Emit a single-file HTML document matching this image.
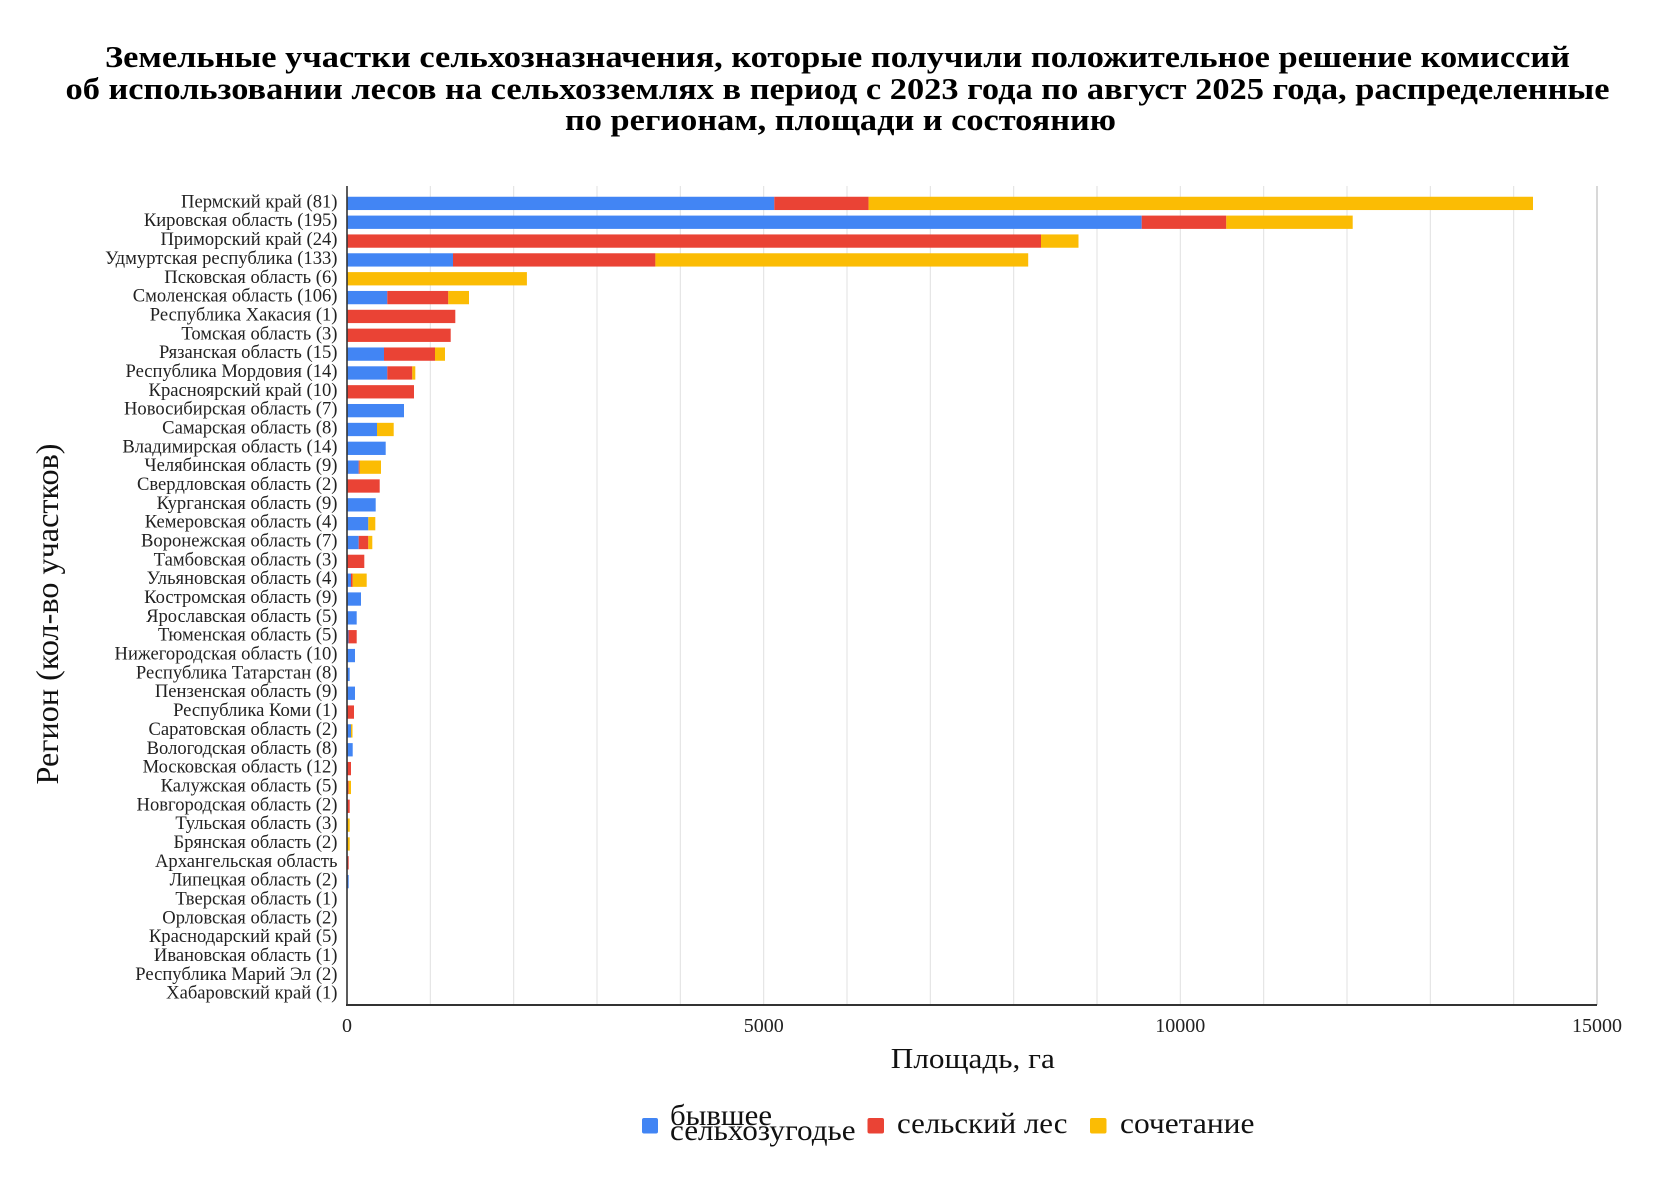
<!DOCTYPE html>
<html><head><meta charset="utf-8"><style>
html,body{margin:0;padding:0;background:#fff;}
svg{display:block;}
text{font-family:"Liberation Serif","Noto Serif CJK SC",serif;}
</style></head><body>
<svg width="1680" height="1182" viewBox="0 0 1680 1182" xmlns="http://www.w3.org/2000/svg">
<rect width="1680" height="1182" fill="#fff"/>
<g font-weight="bold" font-size="31" fill="#000" text-anchor="middle">
<text x="837.5" y="67" textLength="1465" lengthAdjust="spacingAndGlyphs">Земельные участки сельхозназначения, которые получили положительное решение комиссий</text>
<text x="837.5" y="99" textLength="1544" lengthAdjust="spacingAndGlyphs">об использовании лесов на сельхозземлях в период с 2023 года по август 2025 года, распределенные</text>
<text x="840.5" y="130" textLength="551" lengthAdjust="spacingAndGlyphs">по регионам, площади и состоянию</text>
</g>
<g stroke="#e0e0e0" stroke-width="1">
<line x1="430.3" y1="186" x2="430.3" y2="1005"/>
<line x1="513.7" y1="186" x2="513.7" y2="1005"/>
<line x1="597" y1="186" x2="597" y2="1005"/>
<line x1="680.3" y1="186" x2="680.3" y2="1005"/>
<line x1="763.7" y1="186" x2="763.7" y2="1005"/>
<line x1="847" y1="186" x2="847" y2="1005"/>
<line x1="930.3" y1="186" x2="930.3" y2="1005"/>
<line x1="1013.7" y1="186" x2="1013.7" y2="1005"/>
<line x1="1097" y1="186" x2="1097" y2="1005"/>
<line x1="1180.3" y1="186" x2="1180.3" y2="1005"/>
<line x1="1263.7" y1="186" x2="1263.7" y2="1005"/>
<line x1="1347" y1="186" x2="1347" y2="1005"/>
<line x1="1430.3" y1="186" x2="1430.3" y2="1005"/>
<line x1="1513.7" y1="186" x2="1513.7" y2="1005"/>
</g>
<line x1="1597" y1="186" x2="1597" y2="1005" stroke="#bdbdbd" stroke-width="1.2"/>
<g id="bars">
<rect x="347" y="196.75" width="427.3" height="13.3" fill="#4285F4"/>
<rect x="774.3" y="196.75" width="94.3" height="13.3" fill="#EA4335"/>
<rect x="868.6" y="196.75" width="664.4" height="13.3" fill="#FBBC04"/>
<rect x="347" y="215.59" width="794.7" height="13.3" fill="#4285F4"/>
<rect x="1141.7" y="215.59" width="84.6" height="13.3" fill="#EA4335"/>
<rect x="1226.3" y="215.59" width="126.4" height="13.3" fill="#FBBC04"/>
<rect x="347" y="234.43" width="694" height="13.3" fill="#EA4335"/>
<rect x="1041" y="234.43" width="37.5" height="13.3" fill="#FBBC04"/>
<rect x="347" y="253.27" width="106" height="13.3" fill="#4285F4"/>
<rect x="453" y="253.27" width="202.4" height="13.3" fill="#EA4335"/>
<rect x="655.4" y="253.27" width="372.8" height="13.3" fill="#FBBC04"/>
<rect x="347" y="272.11" width="179.9" height="13.3" fill="#FBBC04"/>
<rect x="347" y="290.95" width="40.3" height="13.3" fill="#4285F4"/>
<rect x="387.3" y="290.95" width="61" height="13.3" fill="#EA4335"/>
<rect x="448.3" y="290.95" width="20.7" height="13.3" fill="#FBBC04"/>
<rect x="347" y="309.79" width="108.3" height="13.3" fill="#EA4335"/>
<rect x="347" y="328.63" width="103.7" height="13.3" fill="#EA4335"/>
<rect x="347" y="347.47" width="37" height="13.3" fill="#4285F4"/>
<rect x="384" y="347.47" width="51" height="13.3" fill="#EA4335"/>
<rect x="435" y="347.47" width="10" height="13.3" fill="#FBBC04"/>
<rect x="347" y="366.31" width="40.3" height="13.3" fill="#4285F4"/>
<rect x="387.3" y="366.31" width="25" height="13.3" fill="#EA4335"/>
<rect x="412.3" y="366.31" width="3" height="13.3" fill="#FBBC04"/>
<rect x="347" y="385.15" width="67" height="13.3" fill="#EA4335"/>
<rect x="347" y="403.99" width="57" height="13.3" fill="#4285F4"/>
<rect x="347" y="422.83" width="30" height="13.3" fill="#4285F4"/>
<rect x="377" y="422.83" width="16.7" height="13.3" fill="#FBBC04"/>
<rect x="347" y="441.67" width="38.7" height="13.3" fill="#4285F4"/>
<rect x="347" y="460.51" width="11.7" height="13.3" fill="#4285F4"/>
<rect x="358.7" y="460.51" width="1" height="13.3" fill="#EA4335"/>
<rect x="359.7" y="460.51" width="21.3" height="13.3" fill="#FBBC04"/>
<rect x="347" y="479.35" width="32.7" height="13.3" fill="#EA4335"/>
<rect x="347" y="498.19" width="28.7" height="13.3" fill="#4285F4"/>
<rect x="347" y="517.03" width="21.3" height="13.3" fill="#4285F4"/>
<rect x="368.3" y="517.03" width="7" height="13.3" fill="#FBBC04"/>
<rect x="347" y="535.87" width="11.7" height="13.3" fill="#4285F4"/>
<rect x="358.7" y="535.87" width="9.6" height="13.3" fill="#EA4335"/>
<rect x="368.3" y="535.87" width="4" height="13.3" fill="#FBBC04"/>
<rect x="347" y="554.71" width="17.3" height="13.3" fill="#EA4335"/>
<rect x="347" y="573.55" width="4" height="13.3" fill="#4285F4"/>
<rect x="351" y="573.55" width="1.7" height="13.3" fill="#EA4335"/>
<rect x="352.7" y="573.55" width="14" height="13.3" fill="#FBBC04"/>
<rect x="347" y="592.39" width="14" height="13.3" fill="#4285F4"/>
<rect x="347" y="611.23" width="9.7" height="13.3" fill="#4285F4"/>
<rect x="347" y="630.07" width="1.5" height="13.3" fill="#4285F4"/>
<rect x="348.5" y="630.07" width="8.2" height="13.3" fill="#EA4335"/>
<rect x="347" y="648.91" width="8" height="13.3" fill="#4285F4"/>
<rect x="347" y="667.75" width="2.7" height="13.3" fill="#4285F4"/>
<rect x="347" y="686.59" width="8" height="13.3" fill="#4285F4"/>
<rect x="347" y="705.43" width="7" height="13.3" fill="#EA4335"/>
<rect x="347" y="724.27" width="4" height="13.3" fill="#4285F4"/>
<rect x="351" y="724.27" width="1.5" height="13.3" fill="#FBBC04"/>
<rect x="347" y="743.11" width="5.7" height="13.3" fill="#4285F4"/>
<rect x="347" y="761.95" width="4" height="13.3" fill="#EA4335"/>
<rect x="347" y="780.79" width="1.7" height="13.3" fill="#EA4335"/>
<rect x="348.7" y="780.79" width="2.3" height="13.3" fill="#FBBC04"/>
<rect x="347" y="799.63" width="2.7" height="13.3" fill="#EA4335"/>
<rect x="347" y="818.47" width="2.7" height="13.3" fill="#FBBC04"/>
<rect x="347" y="837.31" width="2.7" height="13.3" fill="#FBBC04"/>
<rect x="347" y="856.15" width="1.7" height="13.3" fill="#EA4335"/>
<rect x="347" y="874.99" width="1.7" height="13.3" fill="#4285F4"/>
</g>
<line x1="347" y1="186" x2="347" y2="1006" stroke="#333" stroke-width="1.6"/>
<line x1="346" y1="1005" x2="1597" y2="1005" stroke="#333" stroke-width="2"/>
<g font-size="18.6" fill="#222" text-anchor="end">
<text x="337.5" y="207.4">Пермский край (81)</text>
<text x="337.5" y="226.2">Кировская область (195)</text>
<text x="337.5" y="245.1">Приморский край (24)</text>
<text x="337.5" y="263.9">Удмуртская республика (133)</text>
<text x="337.5" y="282.8">Псковская область (6)</text>
<text x="337.5" y="301.6">Смоленская область (106)</text>
<text x="337.5" y="320.4">Республика Хакасия (1)</text>
<text x="337.5" y="339.3">Томская область (3)</text>
<text x="337.5" y="358.1">Рязанская область (15)</text>
<text x="337.5" y="377.0">Республика Мордовия (14)</text>
<text x="337.5" y="395.8">Красноярский край (10)</text>
<text x="337.5" y="414.6">Новосибирская область (7)</text>
<text x="337.5" y="433.5">Самарская область (8)</text>
<text x="337.5" y="452.3">Владимирская область (14)</text>
<text x="337.5" y="471.2">Челябинская область (9)</text>
<text x="337.5" y="490.0">Свердловская область (2)</text>
<text x="337.5" y="508.8">Курганская область (9)</text>
<text x="337.5" y="527.7">Кемеровская область (4)</text>
<text x="337.5" y="546.5">Воронежская область (7)</text>
<text x="337.5" y="565.4">Тамбовская область (3)</text>
<text x="337.5" y="584.2">Ульяновская область (4)</text>
<text x="337.5" y="603.0">Костромская область (9)</text>
<text x="337.5" y="621.9">Ярославская область (5)</text>
<text x="337.5" y="640.7">Тюменская область (5)</text>
<text x="337.5" y="659.6">Нижегородская область (10)</text>
<text x="337.5" y="678.4">Республика Татарстан (8)</text>
<text x="337.5" y="697.2">Пензенская область (9)</text>
<text x="337.5" y="716.1">Республика Коми (1)</text>
<text x="337.5" y="734.9">Саратовская область (2)</text>
<text x="337.5" y="753.8">Вологодская область (8)</text>
<text x="337.5" y="772.6">Московская область (12)</text>
<text x="337.5" y="791.4">Калужская область (5)</text>
<text x="337.5" y="810.3">Новгородская область (2)</text>
<text x="337.5" y="829.1">Тульская область (3)</text>
<text x="337.5" y="848.0">Брянская область (2)</text>
<text x="337.5" y="866.8">Архангельская область</text>
<text x="337.5" y="885.6">Липецкая область (2)</text>
<text x="337.5" y="904.5">Тверская область (1)</text>
<text x="337.5" y="923.3">Орловская область (2)</text>
<text x="337.5" y="942.2">Краснодарский край (5)</text>
<text x="337.5" y="961.0">Ивановская область (1)</text>
<text x="337.5" y="979.8">Республика Марий Эл (2)</text>
<text x="337.5" y="998.7">Хабаровский край (1)</text>
</g>
<g font-size="20" fill="#222" text-anchor="middle">
<text x="347" y="1032">0</text>
<text x="763.7" y="1032">5000</text>
<text x="1180.3" y="1032">10000</text>
<text x="1597" y="1032">15000</text>
</g>
<text x="972.8" y="1068" font-size="28" fill="#111" text-anchor="middle" textLength="164" lengthAdjust="spacingAndGlyphs">Площадь, га</text>
<text transform="translate(58,614) rotate(-90)" x="0" y="0" font-size="32" fill="#111" text-anchor="middle" textLength="341" lengthAdjust="spacingAndGlyphs">Регион (кол-во участков)</text>
<g>
<rect x="642" y="1118" width="16" height="15.5" rx="2" fill="#4285F4"/>
<text x="670" y="1125" font-size="30" fill="#111" textLength="102" lengthAdjust="spacingAndGlyphs">бывшее</text>
<text x="670" y="1140" font-size="30" fill="#111" textLength="185.6" lengthAdjust="spacingAndGlyphs">сельхозугодье</text>
<rect x="867.5" y="1118" width="16.5" height="15.5" rx="2" fill="#EA4335"/>
<text x="897" y="1133" font-size="30" fill="#111" textLength="170.5" lengthAdjust="spacingAndGlyphs">сельский лес</text>
<rect x="1090" y="1118" width="16.5" height="15.5" rx="2" fill="#FBBC04"/>
<text x="1120" y="1133" font-size="30" fill="#111" textLength="134.5" lengthAdjust="spacingAndGlyphs">сочетание</text>
</g>
</svg>
</body></html>
